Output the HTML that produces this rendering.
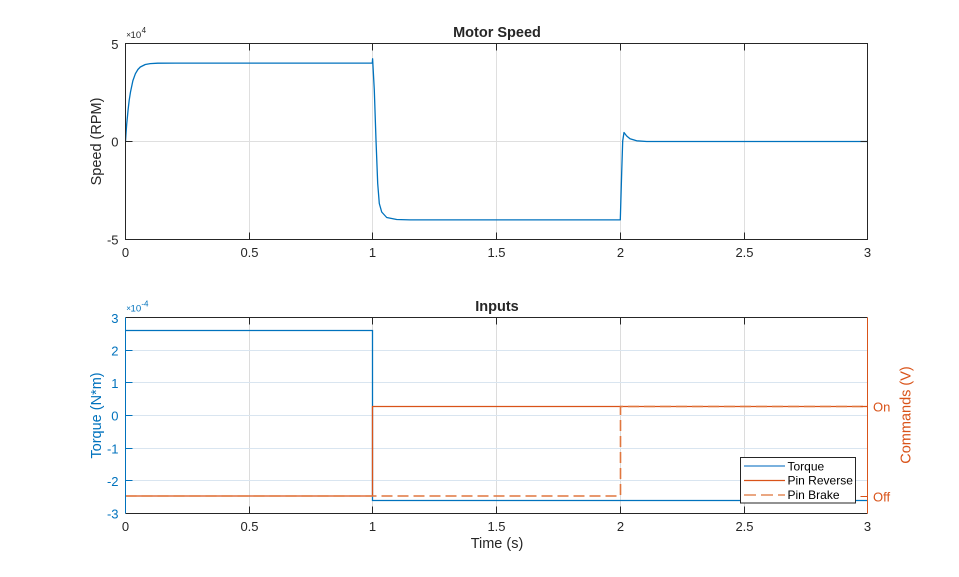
<!DOCTYPE html>
<html>
<head>
<meta charset="utf-8">
<style>
html,body{margin:0;padding:0;background:#fff;}
svg{display:block;}
text{font-family:"Liberation Sans",Arial,sans-serif;}
</style>
</head>
<body>
<svg width="959" height="577" viewBox="0 0 959 577" xmlns="http://www.w3.org/2000/svg">
<rect x="0" y="0" width="959" height="577" fill="#ffffff"/>
<defs>
<clipPath id="c1"><rect x="125" y="43" width="743" height="197"/></clipPath>
<clipPath id="c2"><rect x="125" y="317" width="743" height="197"/></clipPath>
</defs>

<!-- ===== TOP AXES: Motor Speed ===== -->
<g stroke="#dfdfdf" stroke-width="1" fill="none">
<line x1="249.5" y1="43.5" x2="249.5" y2="239.5"/>
<line x1="372.5" y1="43.5" x2="372.5" y2="239.5"/>
<line x1="496.5" y1="43.5" x2="496.5" y2="239.5"/>
<line x1="620.5" y1="43.5" x2="620.5" y2="239.5"/>
<line x1="744.5" y1="43.5" x2="744.5" y2="239.5"/>
<line x1="125.5" y1="141.5" x2="867.5" y2="141.5"/>
</g>
<g clip-path="url(#c1)">
<path d="M125.5,141.5 L126.1,132.3 L126.7,124.2 L127.4,117 L128,110.7 L129.2,100.2 L130.5,92 L132.9,80.6 L135.4,73.7 L137.9,69.5 L140.3,67 L145.3,64.5 L150.2,63.6 L157.7,63.2 L175,63.1 L372.3,63.1 L372.6,58.8 L374.3,90 L376,140 L377.7,183.5 L379.3,203.5 L381.7,212 L386.7,217.5 L396.7,219.5 L410,219.9 L620.3,219.9 L621.7,172 L622.7,141 L624,132.5 L626.7,136 L630,138.8 L636.7,140.8 L646.7,141.5 L867.5,141.5" fill="none" stroke="#0072BD" stroke-width="1.3" stroke-linejoin="round"/>
</g>
<rect x="125.5" y="43.5" width="742" height="196" fill="none" stroke="#262626" stroke-width="1"/>
<g stroke="#262626" stroke-width="1">
<line x1="249.5" y1="239.5" x2="249.5" y2="232.5"/>
<line x1="372.5" y1="239.5" x2="372.5" y2="232.5"/>
<line x1="496.5" y1="239.5" x2="496.5" y2="232.5"/>
<line x1="620.5" y1="239.5" x2="620.5" y2="232.5"/>
<line x1="744.5" y1="239.5" x2="744.5" y2="232.5"/>
<line x1="249.5" y1="43.5" x2="249.5" y2="50.5"/>
<line x1="372.5" y1="43.5" x2="372.5" y2="50.5"/>
<line x1="496.5" y1="43.5" x2="496.5" y2="50.5"/>
<line x1="620.5" y1="43.5" x2="620.5" y2="50.5"/>
<line x1="744.5" y1="43.5" x2="744.5" y2="50.5"/>
<line x1="125.5" y1="141.5" x2="132.5" y2="141.5"/>
<line x1="867.5" y1="141.5" x2="860.5" y2="141.5"/>
</g>
<g font-size="13" fill="#262626" text-anchor="middle">
<text x="125.5" y="257">0</text>
<text x="249.5" y="257">0.5</text>
<text x="372.5" y="257">1</text>
<text x="496.5" y="257">1.5</text>
<text x="620.5" y="257">2</text>
<text x="744.5" y="257">2.5</text>
<text x="867.5" y="257">3</text>
</g>
<g font-size="13" fill="#262626" text-anchor="end">
<text x="118.5" y="49">5</text>
<text x="118.5" y="146.5">0</text>
<text x="118.5" y="244.5">-5</text>
</g>
<text x="126.3" y="37.5" font-size="8" fill="#262626">×</text>
<text x="130.5" y="38" font-size="9.6" fill="#262626">10</text>
<text x="141.6" y="33" font-size="8" fill="#262626">4</text>
<text x="497" y="37" font-size="14.5" font-weight="bold" fill="#262626" text-anchor="middle">Motor Speed</text>
<text transform="translate(101,141.5) rotate(-90)" font-size="14.5" fill="#262626" text-anchor="middle">Speed (RPM)</text>

<!-- ===== BOTTOM AXES: Inputs ===== -->
<g stroke="#dcdcdc" stroke-width="1" fill="none">
<line x1="249.5" y1="317.5" x2="249.5" y2="513.5"/>
<line x1="372.5" y1="317.5" x2="372.5" y2="513.5"/>
<line x1="496.5" y1="317.5" x2="496.5" y2="513.5"/>
<line x1="620.5" y1="317.5" x2="620.5" y2="513.5"/>
<line x1="744.5" y1="317.5" x2="744.5" y2="513.5"/>
</g>
<g stroke="#d9e5f0" stroke-width="1" fill="none">
<line x1="125.5" y1="350.5" x2="867.5" y2="350.5"/>
<line x1="125.5" y1="382.5" x2="867.5" y2="382.5"/>
<line x1="125.5" y1="415.5" x2="867.5" y2="415.5"/>
<line x1="125.5" y1="448.5" x2="867.5" y2="448.5"/>
<line x1="125.5" y1="480.5" x2="867.5" y2="480.5"/>
</g>
<g clip-path="url(#c2)" fill="none">
<path d="M125.5,330.5 L372.5,330.5 L372.5,500.5 L867.5,500.5" stroke="#0072BD" stroke-width="1.3"/>
<path d="M125.5,496 L372.5,496 L372.5,406.5 L867.5,406.5" stroke="#D95319" stroke-width="1.3"/>
<path d="M125.5,496 L620.5,496 L620.5,406.5 L867.5,406.5" stroke="#E0773F" stroke-width="1.6" stroke-dasharray="11,5"/>
</g>
<!-- box -->
<line x1="125.5" y1="317.5" x2="867.5" y2="317.5" stroke="#262626" stroke-width="1"/>
<line x1="125.5" y1="513.5" x2="867.5" y2="513.5" stroke="#262626" stroke-width="1"/>
<line x1="125.5" y1="317.5" x2="125.5" y2="513.5" stroke="#0072BD" stroke-width="1"/>
<line x1="867.5" y1="317.5" x2="867.5" y2="513.5" stroke="#D95319" stroke-width="1"/>
<g stroke="#262626" stroke-width="1">
<line x1="249.5" y1="513.5" x2="249.5" y2="506.5"/>
<line x1="372.5" y1="513.5" x2="372.5" y2="506.5"/>
<line x1="496.5" y1="513.5" x2="496.5" y2="506.5"/>
<line x1="620.5" y1="513.5" x2="620.5" y2="506.5"/>
<line x1="744.5" y1="513.5" x2="744.5" y2="506.5"/>
<line x1="249.5" y1="317.5" x2="249.5" y2="324.5"/>
<line x1="372.5" y1="317.5" x2="372.5" y2="324.5"/>
<line x1="496.5" y1="317.5" x2="496.5" y2="324.5"/>
<line x1="620.5" y1="317.5" x2="620.5" y2="324.5"/>
<line x1="744.5" y1="317.5" x2="744.5" y2="324.5"/>
</g>
<g stroke="#0072BD" stroke-width="1">
<line x1="125.5" y1="350.5" x2="132.5" y2="350.5"/>
<line x1="125.5" y1="382.5" x2="132.5" y2="382.5"/>
<line x1="125.5" y1="415.5" x2="132.5" y2="415.5"/>
<line x1="125.5" y1="448.5" x2="132.5" y2="448.5"/>
<line x1="125.5" y1="480.5" x2="132.5" y2="480.5"/>
</g>
<g stroke="#D95319" stroke-width="1">
<line x1="867.5" y1="406.5" x2="860.5" y2="406.5"/>
<line x1="867.5" y1="496.5" x2="860.5" y2="496.5"/>
</g>
<g font-size="13" fill="#262626" text-anchor="middle">
<text x="125.5" y="531">0</text>
<text x="249.5" y="531">0.5</text>
<text x="372.5" y="531">1</text>
<text x="496.5" y="531">1.5</text>
<text x="620.5" y="531">2</text>
<text x="744.5" y="531">2.5</text>
<text x="867.5" y="531">3</text>
</g>
<g font-size="13" fill="#0072BD" text-anchor="end">
<text x="118.5" y="323">3</text>
<text x="118.5" y="355.5">2</text>
<text x="118.5" y="388">1</text>
<text x="118.5" y="420.5">0</text>
<text x="118.5" y="453.5">-1</text>
<text x="118.5" y="486">-2</text>
<text x="118.5" y="518.5">-3</text>
</g>
<text x="126.3" y="311" font-size="8" fill="#0072BD">×</text>
<text x="130.5" y="311.5" font-size="9.6" fill="#0072BD">10</text>
<text x="141.4" y="306.5" font-size="8" fill="#0072BD">-4</text>
<g font-size="13" fill="#D95319">
<text x="873" y="411.5">On</text>
<text x="873" y="501.5">Off</text>
</g>
<text x="497" y="311" font-size="14.5" font-weight="bold" fill="#262626" text-anchor="middle">Inputs</text>
<text x="497" y="548" font-size="14.5" fill="#262626" text-anchor="middle">Time (s)</text>
<text transform="translate(101,415.5) rotate(-90)" font-size="14.5" fill="#0072BD" text-anchor="middle">Torque (N*m)</text>
<text transform="translate(910.5,415) rotate(-90)" font-size="14.5" fill="#D95319" text-anchor="middle">Commands (V)</text>

<!-- Legend -->
<rect x="740.5" y="457.5" width="115" height="45.5" fill="#ffffff" stroke="#262626" stroke-width="1"/>
<line x1="744" y1="466" x2="785" y2="466" stroke="#4f97d3" stroke-width="1.6"/>
<line x1="744" y1="480.5" x2="785" y2="480.5" stroke="#D95319" stroke-width="1.3"/>
<line x1="744" y1="495" x2="785" y2="495" stroke="#E48A58" stroke-width="1.6" stroke-dasharray="12,5"/>
<g font-size="12" fill="#000000">
<text x="787.5" y="470.3">Torque</text>
<text x="787.5" y="484.5">Pin Reverse</text>
<text x="787.5" y="499">Pin Brake</text>
</g>
</svg>
</body>
</html>
